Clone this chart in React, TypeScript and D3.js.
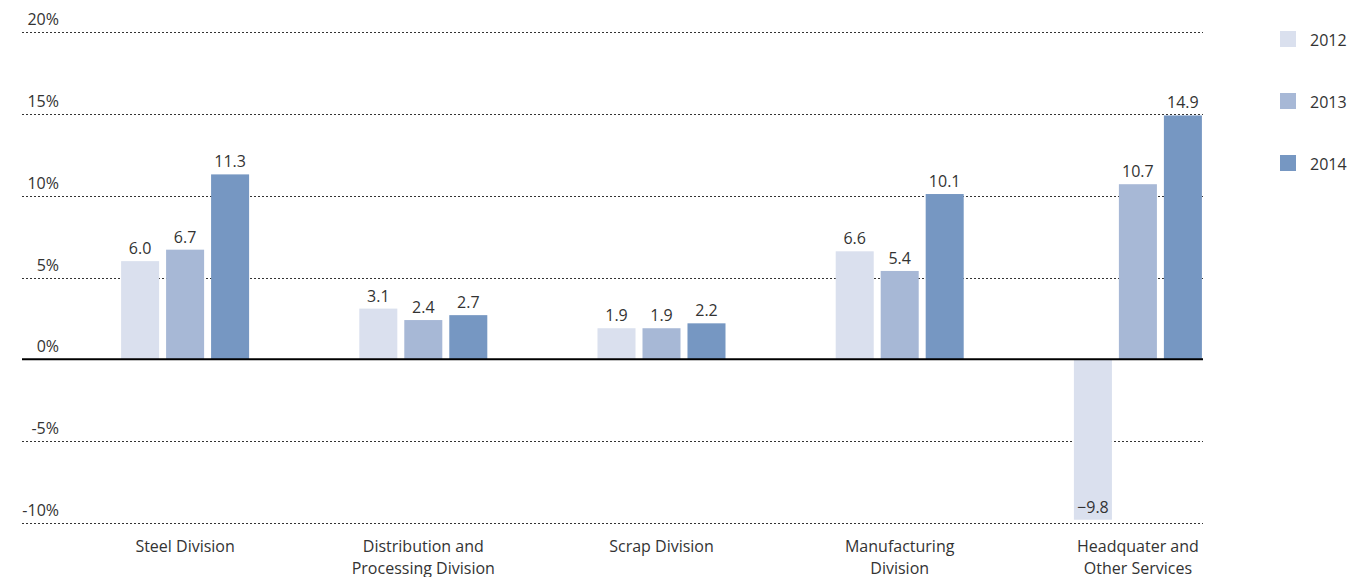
import React from "react";
import * as d3 from "d3";

const categories = [
  ["Steel Division"],
  ["Distribution and", "Processing Division"],
  ["Scrap Division"],
  ["Manufacturing", "Division"],
  ["Headquater and", "Other Services"],
];
const seriesNames = ["2012", "2013", "2014"];
const values2012 = [6.0, 3.1, 1.9, 6.6, -9.8];
const values2013 = [6.7, 2.4, 1.9, 5.4, 10.7];
const values2014 = [11.3, 2.7, 2.2, 10.1, 14.9];
const yTicks = [20, 15, 10, 5, 0, -5, -10];
const colors = ["#dae0ee", "#a7b8d6", "#7697c2"];

const W = 1349;
const H = 577;
const FONT = "'Open Sans', 'DejaVu Sans', sans-serif";
const FS = 16;

export default function App() {
  const series = [values2012, values2013, values2014];
  const y = d3.scaleLinear().domain([-10, 20]).range([523, 32]);
  const x0 = d3
    .scaleBand<number>()
    .domain(categories.map((_, i) => i))
    .range([66, 1257])
    .paddingInner(0)
    .paddingOuter(0);
  const groupW = 128;
  const x1 = d3
    .scaleBand<number>()
    .domain([0, 1, 2])
    .range([0, groupW])
    .paddingInner(0.155)
    .paddingOuter(0);
  const gridX1 = 22;
  const gridX2 = 1203;

  return (
    <svg
      width={W}
      height={H}
      style={{ position: "absolute", left: 0, top: 0, display: "block" }}
      fontFamily={FONT}
    >
      <rect width={W} height={H} fill="#fff" />
      {yTicks.map((t) =>
        t === 0 ? null : (
          <line
            key={"g" + t}
            x1={gridX1}
            x2={gridX2}
            y1={Math.round(y(t)) + 0.5}
            y2={Math.round(y(t)) + 0.5}
            stroke="#333"
            strokeWidth={1}
            strokeDasharray="2,2"
          />
        )
      )}
      {yTicks.map((t) => (
        <text
          key={"t" + t}
          x={59}
          y={y(t) - 7}
          textAnchor="end"
          fontSize={FS}
          fill="#333"
        >
          {t + "%"}
        </text>
      ))}
      {categories.map((c, i) => {
        const cx = (x0(i) as number) + x0.bandwidth() / 2;
        const gx = cx - groupW / 2;
        return (
          <g key={"c" + i}>
            {series.map((s, k) => {
              const v = s[i];
              const bx = gx + (x1(k) as number);
              const bw = x1.bandwidth();
              const top = y(Math.max(0, v));
              const bot = y(Math.min(0, v));
              return (
                <g key={k}>
                  <rect x={bx} y={top} width={bw} height={bot - top} fill={colors[k]} />
                  <text
                    x={bx + bw / 2}
                    y={v >= 0 ? top - 7 : bot - 7}
                    textAnchor="middle"
                    fontSize={FS}
                    fill="#333"
                  >
                    {v < 0 ? "\u2212" + Math.abs(v).toFixed(1) : v.toFixed(1)}
                  </text>
                </g>
              );
            })}
            {c.map((line, li) => (
              <text
                key={li}
                x={cx}
                y={552 + li * 22}
                textAnchor="middle"
                fontSize={FS}
                fill="#333"
              >
                {line}
              </text>
            ))}
          </g>
        );
      })}
      <line x1={gridX1} x2={gridX2} y1={y(0)} y2={y(0)} stroke="#000" strokeWidth={2} />
      {seriesNames.map((n, k) => (
        <g key={"l" + n}>
          <rect x={1280} y={31 + k * 62} width={16} height={16} fill={colors[k]} />
          <text x={1310} y={46 + k * 62} fontSize={FS} fill="#333">
            {n}
          </text>
        </g>
      ))}
    </svg>
  );
}
